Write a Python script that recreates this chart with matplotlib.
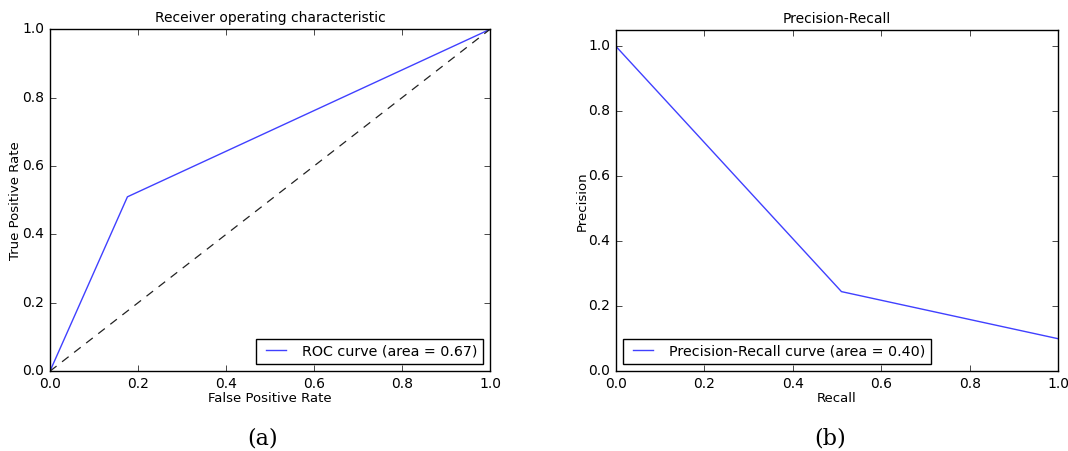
import numpy as np
import matplotlib
matplotlib.use('Agg')
import matplotlib.pyplot as plt

# ROC data
fpr = [0.0, 0.176, 1.0]
tpr = [0.0, 0.51, 1.0]
roc_auc = 0.67

# precision-recall data
recall = [0.0, 0.51, 1.0]
precision = [1.0, 0.245, 0.1]
pr_auc = 0.40

plt.style.use('classic')
plt.rcParams['font.family'] = 'DejaVu Sans'
plt.rcParams['font.size'] = 10

fig = plt.figure(figsize=(10.68, 4.51), dpi=100, facecolor='white')

ax1 = fig.add_axes([0.0468, 0.177, 0.412, 0.758])
ax1.plot(fpr, tpr, color='#4040ff', lw=1, label='ROC curve (area = %0.2f)' % roc_auc)
ax1.plot([0, 1], [0, 1], color='#222222', ls='--', dashes=(6, 5), lw=0.9)
ax1.set_xlim([0.0, 1.0])
ax1.set_ylim([0.0, 1.0])
ax1.set_xlabel('False Positive Rate', fontsize=9.5, labelpad=1)
ax1.set_ylabel('True Positive Rate', fontsize=9.5, labelpad=0)
ax1.set_title('Receiver operating characteristic', fontsize=10)
ax1.legend(loc='lower right', fontsize=10.3, borderaxespad=0.5)

ax2 = fig.add_axes([0.5768, 0.177, 0.4139, 0.756])
ax2.plot(recall, precision, color='#4040ff', lw=1,
         label='Precision-Recall curve (area = %0.2f)' % pr_auc)
ax2.set_xlim([0.0, 1.0])
ax2.set_ylim([0.0, 1.05])
ax2.set_xlabel('Recall', fontsize=9.5, labelpad=1)
ax2.set_ylabel('Precision', fontsize=9.5, labelpad=0)
ax2.set_title('Precision-Recall', fontsize=10)
ax2.legend(loc='lower left', fontsize=10.3, borderaxespad=0.5)

fig.text(0.246, 0.015, '(a)', family='DejaVu Serif', fontsize=16, ha='center')
fig.text(0.777, 0.015, '(b)', family='DejaVu Serif', fontsize=16, ha='center')

fig.savefig('out.png', dpi=100, facecolor='white')
